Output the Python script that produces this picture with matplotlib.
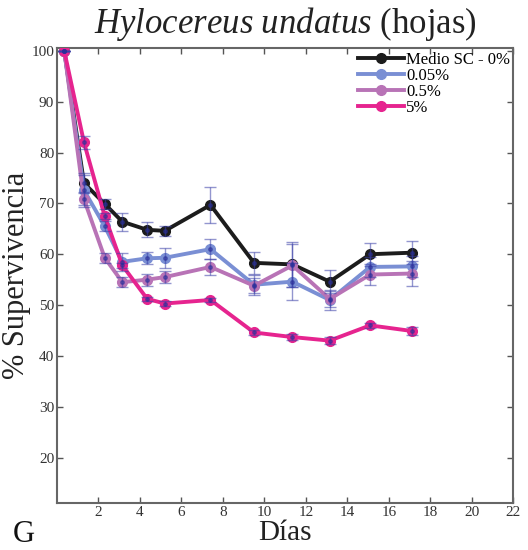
import numpy as np
import matplotlib.pyplot as plt

plt.rcParams['font.family'] = ['Liberation Serif', 'DejaVu Serif']
plt.rcParams['mathtext.fontset'] = 'custom'
plt.rcParams['mathtext.it'] = 'Liberation Serif:italic'
plt.rcParams['mathtext.rm'] = 'Liberation Serif'

# Days of each measurement
dias = [0.35, 1.3, 2.3, 3.15, 4.35, 5.2, 7.4, 9.5, 11.35, 13.15, 15.1, 17.1]

medio = [100, 74.0, 69.9, 66.4, 64.8, 64.6, 69.7, 58.3, 58.0, 54.6, 60.0, 60.3]
medio_err = [0, 2.0, 1.0, 1.8, 1.5, 1.0, 3.5, 2.2, 4.5, 2.3, 2.3, 2.3]

c005 = [100, 72.6, 65.5, 58.5, 59.2, 59.3, 61.0, 54.0, 54.6, 51.0, 57.5, 57.6]
c005_err = [0, 3.0, 1.0, 1.8, 1.2, 2.0, 2.0, 2.0, 3.6, 2.0, 2.0, 2.0]

c05 = [100, 70.8, 59.3, 54.5, 55.0, 55.5, 57.5, 53.8, 57.8, 51.2, 56.0, 56.2]
c05_err = [0, 1.5, 1.0, 1.0, 1.2, 1.2, 1.5, 1.5, 4.3, 1.5, 2.0, 2.5]

c5 = [100, 82.0, 67.5, 57.8, 51.2, 50.3, 51.0, 44.6, 43.7, 43.0, 46.0, 44.9]
c5_err = [0, 1.2, 0.6, 0.5, 0.4, 0.4, 0.4, 0.5, 0.6, 0.7, 0.5, 0.8]

series = [
    ('Medio SC - 0%', medio, medio_err, '#1c1c1c'),
    ('0.05%', c005, c005_err, '#7a8fd4'),
    ('0.5%', c05, c05_err, '#b873b6'),
    ('5%', c5, c5_err, '#e6248f'),
]

fig = plt.figure(figsize=(5.28, 5.5), dpi=100)
ax = fig.add_axes([0.108, 0.085, 0.864, 0.827])

for label, vals, err, col in series:
    ax.plot(dias, vals, '-o', color=col, lw=2.8, ms=7, label=label, zorder=3)
    ax.errorbar(dias, vals, yerr=err, fmt='o', ms=2.5, color='#2a2f9a',
                ecolor='#3a40a8', elinewidth=1.0, capsize=4, alpha=0.55, zorder=4)

ax.set_xlim(0, 22)
ax.set_ylim(11, 100.5)
ax.set_xticks(np.arange(2, 23, 2))
ax.set_yticks(np.arange(20, 101, 10))
ax.tick_params(direction='in', top=True, right=True, length=4, width=1,
               colors='#555555', labelcolor='#333333', labelsize=11, pad=2)
for s in ax.spines.values():
    s.set_color('#666666')
    s.set_linewidth(1.5)

ax.set_xlabel('Días', fontsize=21, color='#222222', labelpad=0.5)
ax.set_ylabel('% Supervivencia', fontsize=22, color='#222222', labelpad=0)
fig.text(0.54, 0.94, r'$\it{Hylocereus\ undatus}$ (hojas)', ha='center',
         fontsize=25, color='#222222')
fig.text(0.025, 0.015, 'G', fontsize=22, color='#111111')

leg = ax.legend(loc='upper right', frameon=False, fontsize=12, handlelength=2.8,
                labelspacing=0.0, handletextpad=0.1, borderaxespad=0.1,
                borderpad=0.1)

fig.savefig('out.png', dpi=100)
